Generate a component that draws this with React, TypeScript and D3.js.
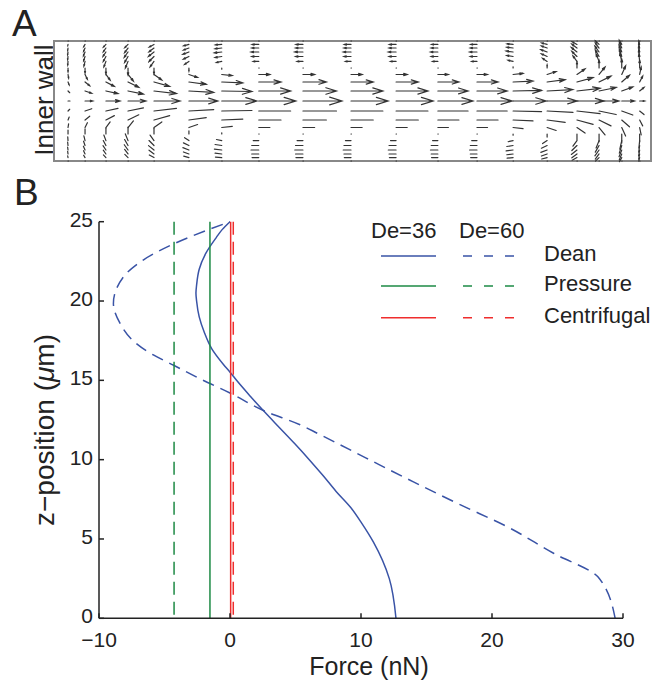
import React from 'react';
import * as d3 from 'd3';

const W = 655;
const H = 680;

// ---- panel A: secondary flow field (quiver) ----
// radial column positions (0 = inner wall, 1 = outer wall)
const colR = [0.0235, 0.052, 0.087, 0.124, 0.1675, 0.226, 0.281, 0.343, 0.417, 0.4975,
  0.573, 0.643, 0.7085, 0.769, 0.826, 0.876, 0.913, 0.951, 0.981];
// horizontal / vertical strength of each column
const colU = [0.05, 0.2, 0.36, 0.46, 0.67, 0.74, 0.9, 0.95, 1.0, 0.95,
  0.95, 0.9, 0.9, 0.85, 0.77, 0.69, 0.51, 0.33, 0.13];
const colV = [-0.1, -0.13, -0.15, -0.18, -0.15, -0.08, -0.03, 0, 0, 0,
  0, 0, 0, 0.03, 0.08, 0.15, 0.2, 0.23, 0.2];
// rows: z from top wall (1) to bottom wall (-1)
const rowZ = [1, 0.943, 0.883, 0.817, 0.742, 0.66, 0.55, 0.442, 0.317, 0.167, 0,
  -0.167, -0.317, -0.442, -0.55, -0.66, -0.742, -0.817, -0.883, -0.943, -1];
const rowU = [0, -0.18, -0.19, -0.21, -0.19, -0.15, 0, 0.3, 0.6, 0.86, 1,
  0.86, 0.6, 0.3, 0, -0.15, -0.19, -0.21, -0.19, -0.18, 0];
const rowV = [0, 0.45, 0.65, 0.75, 0.85, 0.95, 1.0, 0.95, 0.75, 0.45, 0,
  -0.45, -0.75, -0.95, -1.0, -0.95, -0.85, -0.75, -0.65, -0.45, 0];

// ---- panel B: forces vs z ----
const dean36Z = [0, 2.5, 4.8, 6, 7, 8, 9, 10, 11, 12, 13, 14, 15, 15.5, 16, 17, 18, 19, 20, 20.5, 21, 22, 23, 24, 24.5, 25];
const dean36F = [12.67, 12.16, 10.95, 10.05, 9.2, 8.1, 7.1, 6.05, 4.95, 3.8, 2.65, 1.55, 0.5, 0.02, -0.5, -1.4, -1.95, -2.35, -2.55, -2.6, -2.55, -2.35, -1.85, -1.05, -0.6, 0];
const dean60Z = [0, 2.6, 4.1, 5.8, 7.15, 8.6, 10.1, 11.65, 12.2, 13.1, 14.2, 15.1, 15.95, 16.6, 17.5, 18.6, 19.85, 21.5, 22.6, 23.6, 25];
const dean60F = [29.4, 28.1, 24.7, 21.1, 17.6, 14.0, 10.4, 6.7, 5.35, 2.55, 0, -2.3, -4.3, -5.85, -7.4, -8.4, -8.9, -8.15, -6.6, -4.3, 0];
const pressureZ = [25, 0];
const pressure36F = [-1.53, -1.53];
const pressure60F = [-4.27, -4.27];
const centrifugal36F = [0.05, 0.05];
const centrifugal60F = [0.25, 0.25];

const xTicks = [-10, 0, 10, 20, 30];
const yTicks = [0, 5, 10, 15, 20, 25];
const legendHeads = ['De=36', 'De=60'];
const legendNames = ['Dean', 'Pressure', 'Centrifugal'];

const BLUE = '#3953a6';
const GREEN = '#1d8a45';
const RED = '#ef2d2d';
const INK = '#222';
const FONT = '"Liberation Sans", Arial, sans-serif';

const xA = d3.scaleLinear().domain([0, 1]).range([54, 651]);
const yA = d3.scaleLinear().domain([-1, 1]).range([161, 41]);
const arrowLen = d3.scaleLinear().domain([0, 1]).range([0, 39]);

const xB = d3.scaleLinear().domain([-10, 30]).range([99, 623]);
const yB = d3.scaleLinear().domain([0, 25]).range([618.3, 221.7]);

const line = d3.line<[number, number]>()
  .x(d => xB(d[0]))
  .y(d => yB(d[1]))
  .curve(d3.curveMonotoneY);

const Quiver = () => {
  const marks: React.ReactNode[] = [];
  colR.forEach((r, i) => {
    rowZ.forEach((z, j) => {
      const x0 = xA(r);
      const y0 = yA(z);
      const dx = arrowLen(colU[i] * rowU[j]);
      const dy = -arrowLen(colV[i] * rowV[j]);
      const L = Math.hypot(dx, dy);
      const key = `${i}-${j}`;
      if (L < 0.8) {
        marks.push(<line key={key} x1={x0} y1={y0} x2={x0 + 0.4} y2={y0} />);
        return;
      }
      const x1 = x0 + dx;
      const y1 = y0 + dy;
      let d = `M${x0},${y0}L${x1},${y1}`;
      if (z >= 0 && L > 2.5) {
        const th = Math.atan2(dy, dx);
        const h = L * 0.33;
        const a = 0.3;
        d += `M${x1 - h * Math.cos(th - a)},${y1 - h * Math.sin(th - a)}L${x1},${y1}L${x1 - h * Math.cos(th + a)},${y1 - h * Math.sin(th + a)}`;
      }
      marks.push(<path key={key} d={d} />);
    });
  });
  return (
    <g stroke="#333" strokeWidth={1.2} fill="none" strokeLinecap="round">
      {marks}
    </g>
  );
};

const App = () => {
  const series = [
    { z: dean60Z, f: dean60F, color: BLUE, dash: '12,7' },
    { z: dean36Z, f: dean36F, color: BLUE, dash: null },
    { z: pressureZ, f: pressure60F, color: GREEN, dash: '13,7' },
    { z: pressureZ, f: pressure36F, color: GREEN, dash: null },
    { z: pressureZ, f: centrifugal60F, color: RED, dash: '13,7' },
    { z: pressureZ, f: centrifugal36F, color: RED, dash: null },
  ];
  const legendColors = [BLUE, GREEN, RED];
  const legendY = [256, 286, 317.7];

  return (
    <svg width={W} height={H} style={{ position: 'absolute', left: 0, top: 0, background: '#fff' }}
      fontFamily={FONT}>
      {/* panel A */}
      <text x={12} y={36} fontSize={37} fill={INK}>A</text>
      <text transform="translate(53,100) rotate(-90)" textAnchor="middle" fontSize={26} fill={INK}>Inner wall</text>
      <rect x={xA(0)} y={yA(1)} width={xA(1) - xA(0)} height={yA(-1) - yA(1)} fill="none" stroke="#888" strokeWidth={2} />
      <Quiver />

      {/* panel B */}
      <text x={14} y={205} fontSize={37} fill={INK}>B</text>
      {series.map((s, i) => (
        <path key={i} d={line(d3.zip(s.f, s.z) as [number, number][]) || ''} fill="none"
          stroke={s.color} strokeWidth={1.5} strokeDasharray={s.dash || undefined} />
      ))}

      <g stroke={INK} strokeWidth={1.5}>
        <line x1={xB(-10)} x2={xB(-10)} y1={yB(0)} y2={yB(25)} />
        <line x1={xB(-10)} x2={xB(30)} y1={yB(0)} y2={yB(0)} />
        {yTicks.map(t => <line key={'y' + t} x1={xB(-10)} x2={xB(-10) + 5} y1={yB(t)} y2={yB(t)} />)}
        {xTicks.map(t => <line key={'x' + t} x1={xB(t)} x2={xB(t)} y1={yB(0)} y2={yB(0) - 5} />)}
      </g>
      <g fontSize={21} fill={INK}>
        {yTicks.map(t => (
          <text key={t} x={xB(-10) - 6} y={yB(t) - 2.5} textAnchor="end" dominantBaseline="central">{t}</text>
        ))}
        {xTicks.map(t => (
          <text key={t} x={xB(t)} y={647} textAnchor="middle">{t < 0 ? '\u2212' + Math.abs(t) : t}</text>
        ))}
      </g>
      <text x={369} y={674.5} textAnchor="middle" fontSize={25} fill={INK}>Force (nN)</text>
      <text transform="translate(54,430) rotate(-90)" textAnchor="middle" fontSize={28} fill={INK}>
        z{'\u2212'}position (<tspan fontStyle="italic">{'\u03bc'}</tspan>m)
      </text>

      {/* legend */}
      <g fontSize={22} fill={INK}>
        <text x={371} y={238}>{legendHeads[0]}</text>
        <text x={459} y={238}>{legendHeads[1]}</text>
        {legendNames.map((n, i) => (
          <g key={n}>
            <line x1={381} x2={436} y1={legendY[i]} y2={legendY[i]} stroke={legendColors[i]} strokeWidth={1.5} />
            <line x1={463} x2={515} y1={legendY[i]} y2={legendY[i]} stroke={legendColors[i]} strokeWidth={1.5} strokeDasharray="9,12" />
            <text x={544} y={legendY[i] + 5}>{n}</text>
          </g>
        ))}
      </g>
    </svg>
  );
};

export default App;
